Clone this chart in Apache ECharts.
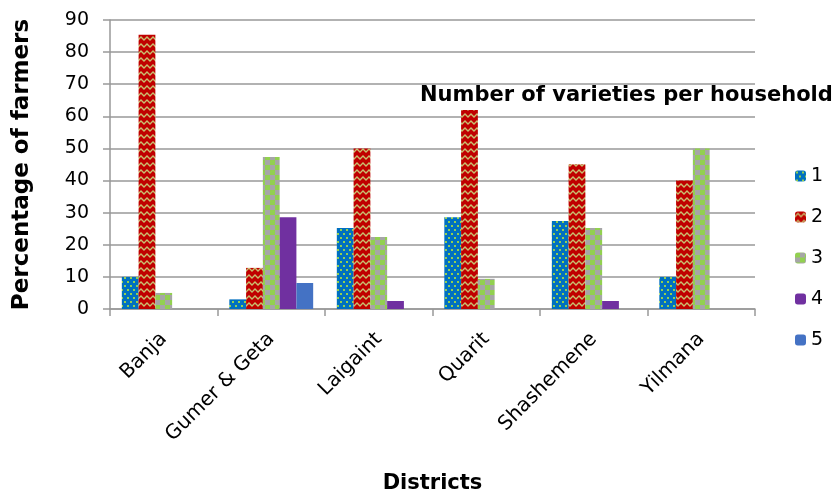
<!DOCTYPE html>
<html><head><meta charset="utf-8">
<script src="https://cdn.jsdelivr.net/npm/echarts@6/dist/echarts.min.js"></script>
<style>html,body{margin:0;padding:0;background:#fff}#c{width:839px;height:493px}</style>
</head><body><div id="c"></div>
<script>
const districts = ['Banja', 'Gumer & Geta', 'Laigaint', 'Quarit', 'Shashemene', 'Yilmana'];
const seriesNames = ['1', '2', '3', '4', '5'];
const v1 = [10, 3, 25.2, 28.6, 27.4, 10];
const v2 = [85.4, 12.8, 50, 62, 45.1, 40];
const v3 = [5, 47.3, 22.4, 9.4, 25.2, 50];
const v4 = [0, 28.6, 2.5, 0, 2.5, 0];
const v5 = [0, 8.1, 0, 0, 0, 0];
const yTicks = [0, 10, 20, 30, 40, 50, 60, 70, 80, 90];

function tile(w, h, draw) {
  const c = document.createElement('canvas');
  c.width = w; c.height = h;
  draw(c.getContext('2d'));
  return { image: c, repeat: 'repeat' };
}
const pat1 = tile(6, 8, g => {
  g.fillStyle = '#0070C0'; g.fillRect(0, 0, 6, 8);
  g.fillStyle = '#92D050'; g.fillRect(1, 1, 2, 2); g.fillRect(4, 5, 2, 2);
});
const pat2 = tile(6, 7, g => {
  g.fillStyle = '#C00000'; g.fillRect(0, 0, 6, 7);
  g.strokeStyle = '#C8C070'; g.lineWidth = 1.4;
  g.beginPath(); g.moveTo(-1, 6); g.lineTo(3, 2); g.lineTo(7, 6); g.stroke();
});
const pat3 = tile(10, 10, g => {
  g.fillStyle = '#92D050'; g.fillRect(0, 0, 10, 10);
  g.fillStyle = '#A6A6A6'; g.fillRect(5, 0, 5, 5); g.fillRect(0, 5, 5, 5);
});
const fills = [pat1, pat2, pat3, '#7030A0', '#4472C4'];
const values = [v1, v2, v3, v4, v5];

const FONT = 'DejaVu Sans';
const chart = echarts.init(document.getElementById('c'), null, { renderer: 'canvas' });
chart.setOption({
  animation: false,
  title: {
    text: 'Number of varieties per household',
    left: 415, top: 80,
    textStyle: { fontFamily: FONT, fontWeight: 'bold', fontSize: 21, color: '#000' }
  },
  legend: {
    orient: 'vertical', left: 790, top: 161,
    itemWidth: 11, itemHeight: 11, itemGap: 21,
    textStyle: { fontFamily: FONT, fontSize: 19, lineHeight: 20, color: '#000' },
    data: seriesNames
  },
  grid: { left: 110, right: 84, top: 20, bottom: 184, outerBoundsMode: 'none' },
  xAxis: {
    type: 'category', data: districts,
    name: 'Districts', nameLocation: 'middle', nameGap: 164,
    nameTextStyle: { fontFamily: FONT, fontWeight: 'bold', fontSize: 21, color: '#000' },
    axisLine: { lineStyle: { color: '#999', width: 1.5 } },
    axisTick: { show: true, length: 7, lineStyle: { color: '#999', width: 1.5 } },
    axisLabel: { rotate: 45, margin: 27, fontFamily: FONT, fontSize: 20, color: '#000' }
  },
  yAxis: {
    type: 'value', min: 0, max: 90, interval: 10,
    name: 'Percentage of farmers', nameLocation: 'middle', nameGap: 76,
    nameTextStyle: { fontFamily: FONT, fontWeight: 'bold', fontSize: 23, color: '#000' },
    axisLine: { show: true, lineStyle: { color: '#999', width: 1.5 } },
    axisTick: { show: true, length: 7, lineStyle: { color: '#999', width: 1.5 } },
    splitLine: { lineStyle: { color: '#999', width: 1.5 } },
    axisLabel: { margin: 21, fontFamily: FONT, fontSize: 19, color: '#000',
      formatter: v => yTicks.includes(v) ? String(v) : '' }
  },
  series: seriesNames.map((n, i) => ({
    name: n, type: 'bar', data: values[i],
    barGap: '0%', barCategoryGap: '22%',
    itemStyle: { color: fills[i] }
  }))
});
</script></body></html>
